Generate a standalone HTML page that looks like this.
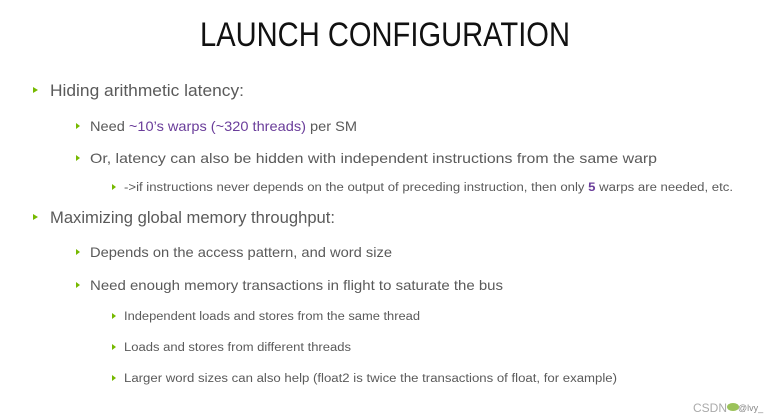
<!DOCTYPE html>
<html><head><style>
html,body{margin:0;padding:0;background:#fff;}
svg{display:block;}
text{font-family:"Liberation Sans","DejaVu Sans",sans-serif;fill:#5a5a5a;}
.p{fill:#6a3d9a;}
</style></head><body>
<svg width="774" height="418" viewBox="0 0 774 418" xmlns="http://www.w3.org/2000/svg">
<rect width="774" height="418" fill="#fff"/>
<text x="200" y="46" font-size="34" textLength="370" lengthAdjust="spacingAndGlyphs" style="fill:#111">LAUNCH CONFIGURATION</text>
<g fill="#76b900">
<polygon points="33,87 38,90 33,93"/>
<polygon points="76,123 80,126 76,129"/>
<polygon points="76,155 80,158 76,161"/>
<polygon points="112,184 116,187 112,190"/>
<polygon points="33,214 38,217 33,220"/>
<polygon points="76,249 80,252 76,255"/>
<polygon points="76,282 80,285 76,288"/>
<polygon points="112,313 116,316 112,319"/>
<polygon points="112,344 116,347 112,350"/>
<polygon points="112,375 116,378 112,381"/>
</g>
<text x="50" y="96" font-size="17" textLength="194" lengthAdjust="spacingAndGlyphs">Hiding arithmetic latency:</text>
<text x="90" y="131" font-size="14" textLength="267" lengthAdjust="spacingAndGlyphs">Need <tspan class="p">~10’s warps (~320 threads)</tspan>  per SM</text>
<text x="90" y="163" font-size="14" textLength="567" lengthAdjust="spacingAndGlyphs">Or, latency can also be hidden with independent instructions from the same warp</text>
<text x="124" y="191" font-size="11.5" textLength="609" lengthAdjust="spacingAndGlyphs">-&gt;if instructions never depends on the output of preceding instruction, then only <tspan class="p" font-weight="bold">5</tspan> warps are needed, etc.</text>
<text x="50" y="223" font-size="17" textLength="285" lengthAdjust="spacingAndGlyphs">Maximizing global memory throughput:</text>
<text x="90" y="257" font-size="14" textLength="302" lengthAdjust="spacingAndGlyphs">Depends on the access pattern, and word size</text>
<text x="90" y="290" font-size="14" textLength="413" lengthAdjust="spacingAndGlyphs">Need enough memory transactions in flight to saturate the bus</text>
<text x="124" y="320" font-size="11.5" textLength="296" lengthAdjust="spacingAndGlyphs">Independent loads and stores from the same thread</text>
<text x="124" y="351" font-size="11.5" textLength="227" lengthAdjust="spacingAndGlyphs">Loads and stores from different threads</text>
<text x="124" y="382" font-size="11.5" textLength="493" lengthAdjust="spacingAndGlyphs">Larger word sizes can also help (float2 is twice the transactions of float, for example)</text>
<text x="693" y="412" font-size="12" style="fill:#aaa">CSDN</text>
<ellipse cx="733" cy="407" rx="6" ry="4" fill="#9bc25a"/>
<text x="738" y="411" font-size="9" style="fill:#888">@lvy_</text>
</svg>
</body></html>
